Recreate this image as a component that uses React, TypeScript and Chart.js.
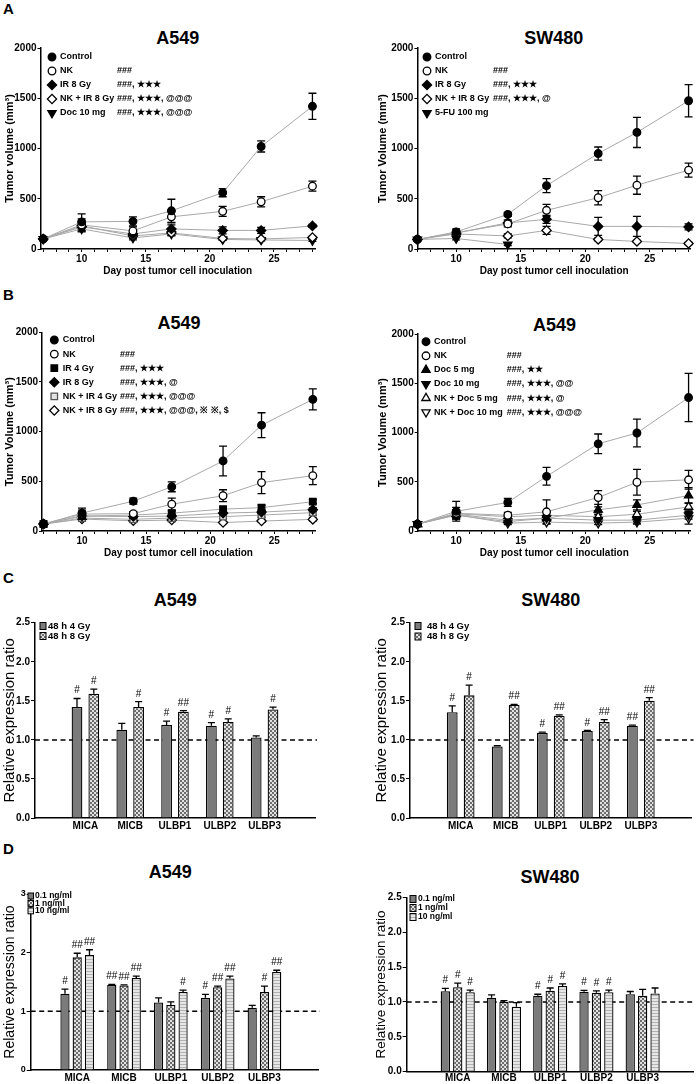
import React, { useEffect, useRef } from 'react';
import { Chart, registerables } from 'chart.js';
Chart.register(...registerables);

const FONT = "'Liberation Sans', Arial, Helvetica, sans-serif";
Chart.defaults.font.family = FONT;
Chart.defaults.color = '#000';

// ---------------- Panels A / B : tumour growth ----------------
const days = [7, 10, 14, 17, 21, 24, 28];
const xTitle = 'Day post tumor cell inoculation';

// A – A549
const aA549Labels = ['Control', 'NK', 'IR 8 Gy', 'NK + IR 8 Gy', 'Doc 10 mg'];
const aA549Notes = ['', '###', '###, ★★★', '###, ★★★, @@@', '###, ★★★, @@@'];
const aA549Control = [100, 270, 275, 380, 560, 1020, 1420];
const aA549ControlErr = [15, 80, 45, 115, 40, 55, 130];
const aA549NK = [100, 240, 180, 320, 375, 470, 625];
const aA549NKErr = [10, 60, 40, 60, 50, 50, 50];
const aA549IR8 = [100, 220, 150, 200, 185, 185, 230];
const aA549IR8Err = [10, 40, 30, 40, 35, 30, 15];
const aA549NKIR8 = [100, 230, 130, 160, 105, 100, 115];
const aA549NKIR8Err = [10, 40, 25, 25, 15, 10, 10];
const aA549Doc10 = [100, 200, 110, 150, 95, 90, 85];
const aA549Doc10Err = [10, 30, 20, 20, 10, 10, 10];

// A – SW480
const aSW480Labels = ['Control', 'NK', 'IR 8 Gy', 'NK + IR 8 Gy', '5-FU 100 mg'];
const aSW480Notes = ['', '###', '###, ★★★', '###, ★★★, @', ''];
const aSW480Control = [95, 170, 345, 630, 950, 1160, 1475];
const aSW480ControlErr = [10, 30, 20, 70, 65, 150, 160];
const aSW480NK = [95, 160, 250, 385, 510, 635, 785];
const aSW480NKErr = [10, 25, 30, 60, 70, 90, 70];
const aSW480IR8 = [95, 160, 260, 295, 225, 225, 220];
const aSW480IR8Err = [10, 25, 30, 40, 90, 100, 30];
const aSW480NKIR8 = [95, 150, 130, 185, 95, 75, 55];
const aSW480NKIR8Err = [10, 20, 20, 40, 15, 10, 10];
const aSW480FU = [95, 105, 45, null, null, null, null];
const aSW480FUErr = [10, 15, 10, 0, 0, 0, 0];

// B – A549 (irradiation)
const bIRLabels = ['Control', 'NK', 'IR 4 Gy', 'IR 8 Gy', 'NK + IR 4 Gy', 'NK + IR 8 Gy'];
const bIRNotes = ['', '###', '###, ★★★', '###, ★★★, @', '###, ★★★, @@@', '###, ★★★, @@@, ※ ※, $'];
const bIRControl = [70, 180, 300, 445, 705, 1065, 1325];
const bIRControlErr = [15, 50, 30, 50, 150, 125, 105];
const bIRNK = [70, 170, 175, 270, 355, 487, 557];
const bIRNKErr = [15, 40, 20, 60, 60, 110, 90];
const bIR4 = [70, 150, 160, 180, 220, 235, 295];
const bIR4Err = [10, 30, 20, 20, 25, 25, 20];
const bIR8 = [70, 150, 145, 150, 180, 190, 215];
const bIR8Err = [10, 30, 20, 20, 20, 20, 20];
const bNKIR4 = [70, 130, 118, 130, 145, 160, 185];
const bNKIR4Err = [10, 25, 15, 20, 20, 20, 25];
const bNKIR8 = [70, 120, 103, 110, 85, 100, 117];
const bNKIR8Err = [10, 20, 15, 15, 10, 10, 15];

// B – A549 (docetaxel)
const bDocLabels = ['Control', 'NK', 'Doc 5 mg', 'Doc 10 mg', 'NK + Doc 5 mg', 'NK + Doc 10 mg'];
const bDocNotes = ['', '###', '###, ★★', '###, ★★★, @@', '###, ★★★, @', '###, ★★★, @@@'];
const bDocControl = [70, 200, 290, 555, 885, 995, 1355];
const bDocControlErr = [15, 100, 40, 90, 100, 140, 245];
const bDocNK = [70, 180, 160, 195, 340, 495, 520];
const bDocNKErr = [15, 60, 30, 120, 70, 130, 95];
const bDoc5 = [70, 170, 110, 130, 215, 265, 360];
const bDoc5Err = [10, 40, 20, 30, 30, 50, 80];
const bDoc10 = [70, 160, 95, 130, 110, 110, 160];
const bDoc10Err = [10, 40, 20, 30, 20, 30, 40];
const bNKDoc5 = [70, 175, 145, 160, 145, 170, 245];
const bNKDoc5Err = [10, 40, 20, 30, 20, 30, 40];
const bNKDoc10 = [70, 165, 80, 90, 80, 90, 130];
const bNKDoc10Err = [10, 30, 15, 20, 15, 20, 60];

// ---------------- Panels C / D : ligand expression ----------------
const ligands = ['MICA', 'MICB', 'ULBP1', 'ULBP2', 'ULBP3'];

const cLabels = ['48 h 4 Gy', '48 h 8 Gy'];
const cA549Gy4 = [1.42, 1.13, 1.19, 1.18, 1.03];
const cA549Gy4Err = [0.11, 0.08, 0.05, 0.04, 0.02];
const cA549Gy4Sig = ['#', '', '#', '#', ''];
const cA549Gy8 = [1.59, 1.42, 1.36, 1.23, 1.39];
const cA549Gy8Err = [0.06, 0.07, 0.015, 0.04, 0.03];
const cA549Gy8Sig = ['#', '#', '##', '#', '#'];
const cSW480Gy4 = [1.355, 0.915, 1.09, 1.115, 1.18];
const cSW480Gy4Err = [0.08, 0.01, 0.01, 0.005, 0.01];
const cSW480Gy4Sig = ['#', '', '#', '#', '##'];
const cSW480Gy8 = [1.57, 1.45, 1.31, 1.23, 1.5];
const cSW480Gy8Err = [0.13, 0.005, 0.01, 0.03, 0.04];
const cSW480Gy8Sig = ['#', '##', '##', '##', '##'];

const dLabels = ['0.1 ng/ml', '1 ng/ml', '10 ng/ml'];
const dA549Low = [1.3, 1.45, 1.15, 1.23, 1.06];
const dA549LowErr = [0.08, 0.01, 0.08, 0.06, 0.04];
const dA549LowSig = ['#', '##', '', '#', ''];
const dA549Mid = [1.92, 1.44, 1.11, 1.41, 1.33];
const dA549MidErr = [0.07, 0.01, 0.05, 0.02, 0.1];
const dA549MidSig = ['##', '##', '', '##', '#'];
const dA549High = [1.96, 1.57, 1.33, 1.56, 1.67];
const dA549HighErr = [0.09, 0.03, 0.03, 0.04, 0.03];
const dA549HighSig = ['##', '##', '#', '##', '##'];
const dSW480Low = [1.155, 1.06, 1.09, 1.145, 1.11];
const dSW480LowErr = [0.04, 0.04, 0.02, 0.02, 0.04];
const dSW480LowSig = ['#', '', '#', '#', ''];
const dSW480Mid = [1.21, 1.0, 1.16, 1.13, 1.09];
const dSW480MidErr = [0.06, 0.02, 0.04, 0.03, 0.09];
const dSW480MidSig = ['#', '', '#', '#', ''];
const dSW480High = [1.14, 0.93, 1.23, 1.14, 1.12];
const dSW480HighErr = [0.03, 0.06, 0.03, 0.03, 0.08];
const dSW480HighSig = ['#', '', '#', '#', ''];

// ---------------- helpers ----------------
function markerStyle(key: string) {
  const filled = key[0] === 'f';
  const shape = key.slice(1);
  let pointStyle = 'circle';
  let pointRotation = 0;
  let pointRadius = 3.8;
  if (shape === 'd') { pointStyle = 'rectRot'; pointRadius = 4.6; }
  if (shape === 's') { pointStyle = 'rect'; pointRadius = 4.6; }
  if (shape === 'tu') { pointStyle = 'triangle'; pointRadius = 4.8; }
  if (shape === 'td') { pointStyle = 'triangle'; pointRotation = 180; pointRadius = 4.8; }
  let bg = filled ? '#000' : '#fff';
  let bc = '#000';
  if (key === 'osg') { pointStyle = 'rect'; pointRadius = 4.6; bg = '#e2e2e2'; bc = '#555'; }
  return {
    pointStyle, pointRotation, pointRadius, pointHoverRadius: pointRadius,
    pointBackgroundColor: bg, pointBorderColor: bc, pointBorderWidth: 1.3,
  };
}

function drawMarker(ctx: any, style: string, rot: number, x: number, y: number, r: number, fill: string, stroke: string, lw: number) {
  ctx.save();
  ctx.beginPath();
  const rad = ((rot || 0) * Math.PI) / 180;
  if (style === 'circle') ctx.arc(x, y, r, 0, Math.PI * 2);
  else if (style === 'rect') {
    const s = Math.SQRT1_2 * r;
    ctx.rect(x - s, y - s, 2 * s, 2 * s);
  } else if (style === 'rectRot') {
    ctx.moveTo(x - r, y); ctx.lineTo(x, y - r); ctx.lineTo(x + r, y); ctx.lineTo(x, y + r); ctx.closePath();
  } else {
    let a = rad;
    ctx.moveTo(x + Math.sin(a) * r, y - Math.cos(a) * r);
    a += (2 * Math.PI) / 3;
    ctx.lineTo(x + Math.sin(a) * r, y - Math.cos(a) * r);
    a += (2 * Math.PI) / 3;
    ctx.lineTo(x + Math.sin(a) * r, y - Math.cos(a) * r);
    ctx.closePath();
  }
  ctx.fillStyle = fill; ctx.fill();
  ctx.lineWidth = lw; ctx.strokeStyle = stroke; ctx.stroke();
  ctx.restore();
}

function drawErrors(chart: any, o: any) {
  const ctx = chart.ctx;
  const ys = chart.scales.y;
  ctx.save();
  ctx.strokeStyle = '#000';
  ctx.lineWidth = o.lineWidth || 1.3;
  chart.data.datasets.forEach((ds: any, i: number) => {
    const meta = chart.getDatasetMeta(i);
    const errs = ds.errors || [];
    meta.data.forEach((el: any, j: number) => {
      const raw = ds.data[j];
      const v = raw && typeof raw === 'object' ? raw.y : raw;
      if (v == null) return;
      const e = errs[j];
      const x = el.x;
      const top = ys.getPixelForValue(v + (e || 0));
      if (e) {
        const bottom = o.mode === 'bar' ? ys.getPixelForValue(v) : ys.getPixelForValue(v - e);
        ctx.beginPath();
        ctx.moveTo(x, top); ctx.lineTo(x, bottom);
        ctx.moveTo(x - o.cap, top); ctx.lineTo(x + o.cap, top);
        if (o.mode === 'line') { ctx.moveTo(x - o.cap, bottom); ctx.lineTo(x + o.cap, bottom); }
        ctx.stroke();
      }
      if (ds.sig && ds.sig[j]) {
        ctx.fillStyle = '#000';
        ctx.font = o.sigFont;
        ctx.textAlign = 'center';
        ctx.textBaseline = 'alphabetic';
        ctx.fillText(ds.sig[j], x, top - o.sigGap);
      }
    });
  });
  ctx.restore();
}

const errorBarPlugin = {
  id: 'errorBars',
  beforeDatasetsDraw(chart: any, _a: any, o: any) { if (o && o.mode === 'line') drawErrors(chart, o); },
  afterDatasetsDraw(chart: any, _a: any, o: any) { if (o && o.mode === 'bar') drawErrors(chart, o); },
};

const refLinePlugin = {
  id: 'refLine',
  beforeDatasetsDraw(chart: any, _a: any, o: any) {
    if (!o || o.value == null) return;
    const ctx = chart.ctx;
    const y = chart.scales.y.getPixelForValue(o.value);
    const { left, right } = chart.chartArea;
    ctx.save();
    ctx.setLineDash([5, 3.5]);
    ctx.lineWidth = 1.5;
    ctx.strokeStyle = '#000';
    ctx.beginPath(); ctx.moveTo(left, y); ctx.lineTo(right + (o.extend || 0), y); ctx.stroke();
    ctx.restore();
  },
};

const insetLegendPlugin = {
  id: 'insetLegend',
  afterDatasetsDraw(chart: any, _a: any, o: any) {
    if (!o || !o.kind) return;
    const ctx = chart.ctx;
    ctx.save();
    ctx.font = o.fontStr;
    ctx.textBaseline = 'middle';
    ctx.textAlign = 'left';
    chart.data.datasets.forEach((ds: any, i: number) => {
      const y = o.y + i * o.step;
      if (o.kind === 'line') {
        drawMarker(ctx, ds.pointStyle, ds.pointRotation, o.markerX, y, ds.pointRadius, ds.pointBackgroundColor, ds.pointBorderColor, ds.pointBorderWidth);
      } else {
        ctx.fillStyle = ds.backgroundColor;
        ctx.fillRect(o.boxX, y - o.boxH / 2, o.boxW, o.boxH);
        ctx.strokeStyle = '#000';
        ctx.lineWidth = 1;
        ctx.strokeRect(o.boxX, y - o.boxH / 2, o.boxW, o.boxH);
      }
      ctx.fillStyle = '#000';
      ctx.fillText(ds.label, o.textX, y);
      if (o.notes && o.notes[i]) ctx.fillText(o.notes[i], o.noteX, y);
    });
    ctx.restore();
  },
};

type Rect = { l: number; t: number; w: number; h: number };
type Area = { x0: number; y0: number; x1: number; y1: number };

function frame(rect: Rect, area: Area) {
  return {
    padTop: area.y0 - rect.t,
    yWidth: area.x0 - rect.l,
    padRight: rect.l + rect.w - area.x1,
    xHeight: rect.t + rect.h - area.y1,
  };
}

function lineConfig(p: any) {
  const { rect, area } = p;
  const f = frame(rect, area);
  const yTitleSize = 11;
  return {
    type: 'line',
    data: {
      datasets: p.series.map((s: any) => ({
        label: s.label,
        data: days.map((d, j) => ({ x: d, y: s.values[j] })),
        errors: s.errs,
        borderColor: '#a8a8a8',
        borderWidth: 1,
        tension: 0,
        fill: false,
        spanGaps: false,
        clip: false,
        ...markerStyle(s.style),
      })),
    },
    options: {
      animation: false,
      responsive: false,
      devicePixelRatio: 1,
      events: [],
      layout: { padding: { left: 0, top: f.padTop, right: f.padRight, bottom: 0 } },
      plugins: {
        legend: { display: false },
        tooltip: { enabled: false },
        errorBars: { mode: 'line', cap: 4, lineWidth: 1.3 },
        insetLegend: {
          kind: 'line',
          markerX: p.legend.markerX - rect.l,
          textX: p.legend.textX - rect.l,
          noteX: p.legend.noteX - rect.l,
          y: p.legend.y - rect.t,
          step: p.legend.step,
          notes: p.notes,
          fontStr: 'bold 9px ' + FONT,
        },
      },
      scales: {
        x: {
          type: 'linear',
          min: p.xmin,
          max: p.xmax,
          bounds: 'data',
          afterBuildTicks: (s: any) => {
            const t: any[] = [];
            for (let d = Math.ceil(p.xmin); d <= Math.floor(p.xmax); d++) t.push({ value: d });
            s.ticks = t;
          },
          ticks: {
            autoSkip: false,
            maxRotation: 0,
            padding: 1,
            color: '#000',
            font: { size: 10, weight: 'bold' },
            callback: (v: number) => {
              const r = Math.round(v);
              return r % 5 === 0 && r >= 10 ? String(r) : '';
            },
          },
          grid: { display: true, drawOnChartArea: false, drawTicks: true, tickLength: 3, color: '#000', lineWidth: 1 },
          border: { display: true, color: '#000', width: 1.5 },
          title: { display: true, text: xTitle, color: '#000', font: { size: 10, weight: 'bold' }, padding: 0 },
          afterFit: (s: any) => { s.height = f.xHeight; },
        },
        y: {
          type: 'linear',
          min: 0,
          max: 2000,
          ticks: {
            stepSize: 500,
            padding: 1,
            color: '#000',
            font: { size: 10, weight: 'bold' },
            callback: (v: number) => String(Math.round(v)),
          },
          grid: { display: true, drawOnChartArea: false, drawTicks: true, tickLength: 3, color: '#000', lineWidth: 1 },
          border: { display: true, color: '#000', width: 1.5 },
          title: {
            display: true,
            text: p.yTitle,
            color: '#000',
            font: { size: yTitleSize, weight: 'bold' },
            padding: { top: p.yTitleX - rect.l - (yTitleSize * 1.2) / 2, bottom: 0 },
          },
          afterFit: (s: any) => { s.width = f.yWidth; },
        },
      },
    },
    plugins: [errorBarPlugin, insetLegendPlugin],
  };
}

function makePattern(kind: string) {
  const c = document.createElement('canvas');
  const g = c.getContext('2d')!;
  if (kind === 'checker') {
    c.width = 4; c.height = 4;
    g.fillStyle = '#e2e2e2'; g.fillRect(0, 0, 4, 4);
    g.fillStyle = '#6c6c6c'; g.fillRect(0, 0, 2, 2); g.fillRect(2, 2, 2, 2);
  } else {
    c.width = 4; c.height = 3;
    g.fillStyle = '#e6e6e6'; g.fillRect(0, 0, 4, 3);
    g.fillStyle = '#b2b2b2'; g.fillRect(0, 0, 4, 1);
  }
  return g.createPattern(c, 'repeat');
}

function fillFor(kind: string) {
  if (kind === 'solid') return '#7b7b7b';
  return makePattern(kind);
}

function barConfig(p: any) {
  const { rect, area } = p;
  const f = frame(rect, area);
  return {
    type: 'bar',
    data: {
      datasets: p.series.map((s: any) => ({
        label: s.label,
        data: s.values.map((v: number, i: number) => ({ x: i, y: v })),
        errors: s.errs,
        sig: s.sig,
        backgroundColor: fillFor(s.fill),
        borderColor: '#000',
        borderWidth: 1.3,
        borderSkipped: 'start',
        categoryPercentage: p.catPct,
        barPercentage: p.barPct,
      })),
    },
    options: {
      animation: false,
      responsive: false,
      devicePixelRatio: 1,
      events: [],
      layout: { padding: { left: 0, top: f.padTop, right: f.padRight, bottom: 0 } },
      plugins: {
        legend: { display: false },
        tooltip: { enabled: false },
        errorBars: { mode: 'bar', cap: 3.5, lineWidth: 1.3, sigFont: '10px ' + FONT, sigGap: 5 },
        refLine: { value: 1, extend: 2 },
        insetLegend: {
          kind: 'bar',
          boxX: p.legend.boxX - rect.l,
          boxW: p.legend.boxW,
          boxH: p.legend.boxH,
          textX: p.legend.textX - rect.l,
          y: p.legend.y - rect.t,
          step: p.legend.step,
          fontStr: 'bold ' + p.legend.size + 'px ' + FONT,
        },
      },
      scales: {
        x: {
          type: 'linear',
          min: p.xmin,
          max: p.xmax,
          bounds: 'data',
          afterBuildTicks: (s: any) => { s.ticks = ligands.map((_, i) => ({ value: i })); },
          ticks: {
            autoSkip: false,
            maxRotation: 0,
            padding: p.xLabelPad,
            color: '#000',
            font: { size: 10, weight: 'bold' },
            callback: (v: number) => ligands[Math.round(v)] || '',
          },
          grid: { display: false, drawTicks: false },
          border: { display: true, color: '#000', width: 1.5 },
          afterFit: (s: any) => { s.height = f.xHeight; },
        },
        y: {
          type: 'linear',
          min: 0,
          max: p.ymax,
          ticks: {
            stepSize: p.ystep,
            padding: 1,
            color: '#000',
            font: { size: p.yTickSize, weight: 'bold' },
            callback: (v: number) => (p.ystep < 1 ? v.toFixed(1) : String(v)),
          },
          grid: { display: true, drawOnChartArea: false, drawTicks: true, tickLength: 4, color: '#000', lineWidth: 1 },
          border: { display: true, color: '#000', width: 1.5 },
          title: {
            display: true,
            text: 'Relative expression ratio',
            color: '#000',
            font: { size: p.yTitleSize, weight: 'normal' },
            padding: { top: p.yTitleX - rect.l - (p.yTitleSize * 1.2) / 2, bottom: 0 },
          },
          afterFit: (s: any) => { s.width = f.yWidth; },
        },
      },
    },
    plugins: [refLinePlugin, errorBarPlugin, insetLegendPlugin],
  };
}

function ChartBox({ rect, build }: { rect: Rect; build: () => any }) {
  const ref = useRef<HTMLCanvasElement>(null);
  useEffect(() => {
    const chart = new Chart(ref.current as HTMLCanvasElement, build());
    return () => chart.destroy();
  }, []);
  return (
    <canvas
      ref={ref}
      width={rect.w}
      height={rect.h}
      style={{ position: 'absolute', left: rect.l, top: rect.t, width: rect.w, height: rect.h }}
    />
  );
}

function Text({ text, cx, cy, size, left }: { text: string; cx?: number; cy: number; size: number; left?: number }) {
  const style: any = {
    position: 'absolute',
    top: cy - 0.4885 * size,
    fontSize: size,
    lineHeight: 1,
    fontWeight: 'bold',
    fontFamily: FONT,
    color: '#000',
    whiteSpace: 'nowrap',
  };
  if (left != null) style.left = left;
  else { style.left = (cx as number) - 100; style.width = 200; style.textAlign = 'center'; }
  return <div style={style}>{text}</div>;
}

const rAL: Rect = { l: 0, t: 40, w: 345, h: 237 };
const rAR: Rect = { l: 348, t: 40, w: 349, h: 237 };
const rBL: Rect = { l: 0, t: 322, w: 345, h: 237 };
const rBR: Rect = { l: 348, t: 322, w: 349, h: 237 };
const rCL: Rect = { l: 0, t: 612, w: 345, h: 226 };
const rCR: Rect = { l: 348, t: 612, w: 349, h: 226 };
const rDL: Rect = { l: 0, t: 884, w: 345, h: 200 };
const rDR: Rect = { l: 348, t: 884, w: 349, h: 200 };

export default function App() {
  return (
    <div style={{ position: 'absolute', left: 0, top: 0, width: 697, height: 1084, background: '#fff', overflow: 'hidden' }}>
      <Text text="A" left={3} cy={8.3} size={15} />
      <Text text="B" left={3} cy={294.7} size={15} />
      <Text text="C" left={3} cy={577} size={15} />
      <Text text="D" left={3} cy={848.3} size={15} />

      <Text text="A549" cx={177.7} cy={37.8} size={18} />
      <Text text="SW480" cx={553.7} cy={37.8} size={18} />
      <Text text="A549" cx={179} cy={323} size={18} />
      <Text text="A549" cx={554.5} cy={324.7} size={18} />
      <Text text="A549" cx={175.3} cy={599.5} size={18} />
      <Text text="SW480" cx={550.7} cy={599.5} size={18} />
      <Text text="A549" cx={170.3} cy={871.3} size={18} />
      <Text text="SW480" cx={550} cy={876.7} size={18} />

      <ChartBox
        rect={rAL}
        build={() =>
          lineConfig({
            rect: rAL,
            area: { x0: 40.5, y0: 48, x1: 315, y1: 249 },
            xmin: 6.79, xmax: 28.2,
            yTitle: 'Tumor volume (mm³)', yTitleX: 9.5,
            notes: aA549Notes,
            legend: { markerX: 52, textX: 60, noteX: 117, y: 57, step: 14 },
            series: [
              { label: aA549Labels[0], values: aA549Control, errs: aA549ControlErr, style: 'fc' },
              { label: aA549Labels[1], values: aA549NK, errs: aA549NKErr, style: 'oc' },
              { label: aA549Labels[2], values: aA549IR8, errs: aA549IR8Err, style: 'fd' },
              { label: aA549Labels[3], values: aA549NKIR8, errs: aA549NKIR8Err, style: 'od' },
              { label: aA549Labels[4], values: aA549Doc10, errs: aA549Doc10Err, style: 'ftd' },
            ],
          })
        }
      />
      <ChartBox
        rect={rAR}
        build={() =>
          lineConfig({
            rect: rAR,
            area: { x0: 417.4, y0: 48, x1: 695, y1: 249 },
            xmin: 7.0, xmax: 28.18,
            yTitle: 'Tumor Volume (mm³)', yTitleX: 383.3,
            notes: aSW480Notes,
            legend: { markerX: 427, textX: 435, noteX: 493, y: 57, step: 14 },
            series: [
              { label: aSW480Labels[0], values: aSW480Control, errs: aSW480ControlErr, style: 'fc' },
              { label: aSW480Labels[1], values: aSW480NK, errs: aSW480NKErr, style: 'oc' },
              { label: aSW480Labels[2], values: aSW480IR8, errs: aSW480IR8Err, style: 'fd' },
              { label: aSW480Labels[3], values: aSW480NKIR8, errs: aSW480NKIR8Err, style: 'od' },
              { label: aSW480Labels[4], values: aSW480FU, errs: aSW480FUErr, style: 'ftd' },
            ],
          })
        }
      />
      <ChartBox
        rect={rBL}
        build={() =>
          lineConfig({
            rect: rBL,
            area: { x0: 42, y0: 332.3, x1: 315, y1: 531 },
            xmin: 6.88, xmax: 28.17,
            yTitle: 'Tumor Volume (mm³)', yTitleX: 10,
            notes: bIRNotes,
            legend: { markerX: 54.3, textX: 62.7, noteX: 120, y: 340, step: 14.1 },
            series: [
              { label: bIRLabels[0], values: bIRControl, errs: bIRControlErr, style: 'fc' },
              { label: bIRLabels[1], values: bIRNK, errs: bIRNKErr, style: 'oc' },
              { label: bIRLabels[2], values: bIR4, errs: bIR4Err, style: 'fs' },
              { label: bIRLabels[3], values: bIR8, errs: bIR8Err, style: 'fd' },
              { label: bIRLabels[4], values: bNKIR4, errs: bNKIR4Err, style: 'osg' },
              { label: bIRLabels[5], values: bNKIR8, errs: bNKIR8Err, style: 'od' },
            ],
          })
        }
      />
      <ChartBox
        rect={rBR}
        build={() =>
          lineConfig({
            rect: rBR,
            area: { x0: 417.7, y0: 334, x1: 695, y1: 531 },
            xmin: 7.02, xmax: 28.18,
            yTitle: 'Tumor Volume (mm³)', yTitleX: 383.3,
            notes: bDocNotes,
            legend: { markerX: 426, textX: 434, noteX: 506.7, y: 341.7, step: 14.1 },
            series: [
              { label: bDocLabels[0], values: bDocControl, errs: bDocControlErr, style: 'fc' },
              { label: bDocLabels[1], values: bDocNK, errs: bDocNKErr, style: 'oc' },
              { label: bDocLabels[2], values: bDoc5, errs: bDoc5Err, style: 'ftu' },
              { label: bDocLabels[3], values: bDoc10, errs: bDoc10Err, style: 'ftd' },
              { label: bDocLabels[4], values: bNKDoc5, errs: bNKDoc5Err, style: 'otu' },
              { label: bDocLabels[5], values: bNKDoc10, errs: bNKDoc10Err, style: 'otd' },
            ],
          })
        }
      />
      <ChartBox
        rect={rCL}
        build={() =>
          barConfig({
            rect: rCL,
            area: { x0: 35, y0: 622.7, x1: 315, y1: 818 },
            xmin: -0.5, xmax: 4.5, ymax: 2.5, ystep: 0.5, yTickSize: 10,
            yTitleSize: 15, yTitleX: 10, xLabelPad: 2,
            catPct: 0.75, barPct: 0.64,
            legend: { boxX: 40, boxW: 6, boxH: 7, textX: 48, y: 626, step: 10, size: 9.5 },
            series: [
              { label: cLabels[0], values: cA549Gy4, errs: cA549Gy4Err, sig: cA549Gy4Sig, fill: 'solid' },
              { label: cLabels[1], values: cA549Gy8, errs: cA549Gy8Err, sig: cA549Gy8Sig, fill: 'checker' },
            ],
          })
        }
      />
      <ChartBox
        rect={rCR}
        build={() =>
          barConfig({
            rect: rCR,
            area: { x0: 410, y0: 622.7, x1: 691.5, y1: 818 },
            xmin: -0.5, xmax: 4.5, ymax: 2.5, ystep: 0.5, yTickSize: 10,
            yTitleSize: 15, yTitleX: 381.7, xLabelPad: 2,
            catPct: 0.75, barPct: 0.64,
            legend: { boxX: 415, boxW: 6, boxH: 7, textX: 427, y: 626, step: 10.5, size: 9.5 },
            series: [
              { label: cLabels[0], values: cSW480Gy4, errs: cSW480Gy4Err, sig: cSW480Gy4Sig, fill: 'solid' },
              { label: cLabels[1], values: cSW480Gy8, errs: cSW480Gy8Err, sig: cSW480Gy8Sig, fill: 'checker' },
            ],
          })
        }
      />
      <ChartBox
        rect={rDL}
        build={() =>
          barConfig({
            rect: rDL,
            area: { x0: 30.7, y0: 894, x1: 318, y1: 1070 },
            xmin: -0.38, xmax: 4.53, ymax: 3, ystep: 1, yTickSize: 9,
            yTitleSize: 14, yTitleX: 10, xLabelPad: 2,
            catPct: 0.785, barPct: 0.75,
            legend: { boxX: 28, boxW: 5.5, boxH: 6, textX: 35, y: 896, step: 7.4, size: 8.5 },
            series: [
              { label: dLabels[0], values: dA549Low, errs: dA549LowErr, sig: dA549LowSig, fill: 'solid' },
              { label: dLabels[1], values: dA549Mid, errs: dA549MidErr, sig: dA549MidSig, fill: 'checker' },
              { label: dLabels[2], values: dA549High, errs: dA549HighErr, sig: dA549HighSig, fill: 'stripe' },
            ],
          })
        }
      />
      <ChartBox
        rect={rDR}
        build={() =>
          barConfig({
            rect: rDR,
            area: { x0: 406.7, y0: 897.3, x1: 693, y1: 1071.7 },
            xmin: -0.485, xmax: 4.47, ymax: 2.5, ystep: 0.5, yTickSize: 10,
            yTitleSize: 13.5, yTitleX: 381.7, xLabelPad: 1,
            catPct: 0.805, barPct: 0.75,
            legend: { boxX: 410, boxW: 6, boxH: 7, textX: 418, y: 899, step: 9, size: 8.5 },
            series: [
              { label: dLabels[0], values: dSW480Low, errs: dSW480LowErr, sig: dSW480LowSig, fill: 'solid' },
              { label: dLabels[1], values: dSW480Mid, errs: dSW480MidErr, sig: dSW480MidSig, fill: 'checker' },
              { label: dLabels[2], values: dSW480High, errs: dSW480HighErr, sig: dSW480HighSig, fill: 'stripe' },
            ],
          })
        }
      />
    </div>
  );
}
